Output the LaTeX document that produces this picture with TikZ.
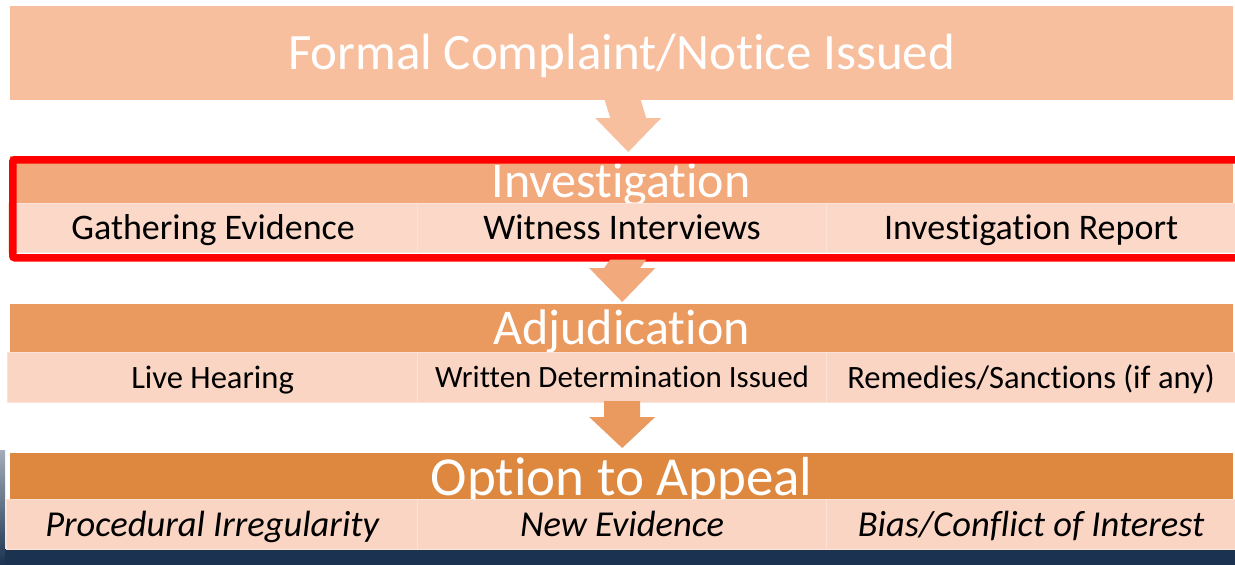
\documentclass[tikz,border=0pt]{standalone}
\usepackage{fontspec}
\setmainfont{Carlito}[Ligatures={NoCommon}]
\usetikzlibrary{calc}
\definecolor{topc}{HTML}{F8BF9F}
\definecolor{invh}{HTML}{F2A97B}
\definecolor{invr}{HTML}{FBD8C8}
\definecolor{adjh}{HTML}{EB9A5F}
\definecolor{rowc}{HTML}{FAD5C3}
\definecolor{opth}{HTML}{DE873F}
\definecolor{darkb}{HTML}{1B3250}
\definecolor{cellb}{HTML}{FCE3D7}
\tikzset{
  hdr/.style={rectangle, inner sep=0pt, anchor=north west, text=white,
    font=\fontsize{50}{56}\selectfont, minimum width=1223pt,
    text height=40pt, text depth=8pt},
  cellbox/.style={rectangle, inner sep=0pt, anchor=north west, draw=cellb,
    line width=1.2pt, text=black, minimum width=409pt, minimum height=49pt},
  bigrow/.style={font=\fontsize{36}{42}\selectfont, text height=29pt, text depth=5.8pt},
  smallrow/.style={font=\fontsize{#1}{38}\selectfont, text height=0.8*#1pt, text depth=0.16*#1pt},
  itrow/.style={font=\fontsize{36.5}{42}\selectfont\itshape, text height=29.2pt, text depth=5.8pt},
}
\newcommand{\blkarrow}[4]{%
  % #1 start coordinate, #2 tip coordinate, #3 head length, #4 colour
  \fill[#4] ($(#1)+(-18,0)$) -- ($(#1)+(18,0)$) -- ($(#2)+(18,-#3)$) --
    ($(#2)+(33,-#3)$) -- (#2) -- ($(#2)+(-33,-#3)$) -- ($(#2)+(-18,-#3)$) -- cycle;}
\begin{document}
\begin{tikzpicture}[x=1pt,y=-1pt]
\useasboundingbox (0,0) rectangle (1235,565);
\fill[white] (0,0) rectangle (1235,565);
% dark background pieces
\fill[darkb] (0,549) rectangle (1235,565);
\shade[top color=darkb!40!white, bottom color=darkb] (0,450) rectangle (5,565);

% top box
\node[hdr, fill=topc, minimum height=94pt, font=\fontsize{51}{57}\selectfont,
  text height=41pt, text depth=8pt] (top) at (10,6) {Formal Complaint/Notice Issued};

% Investigation
\node[hdr, fill=invh, minimum height=47pt] (invh) at (10,156) {};
\node[text=white, font=\fontsize{50}{56}\selectfont, text height=40pt, text depth=8pt,
  inner sep=0pt] (invt) at (621,181) {Investigation};
\node[cellbox, fill=invr, bigrow] (i1) at (8,203) {Gathering Evidence};
\node[cellbox, fill=invr, bigrow] (i2) at (417,203) {Witness Interviews};
\node[cellbox, fill=invr, bigrow] (i3) at (826,203) {Investigation Report};
\node[rectangle, draw=red, line width=7.5pt, inner sep=0pt, anchor=north west,
  minimum width=1230pt, minimum height=98pt, rounded corners=2pt] (redbox) at (9,156) {};

% Adjudication
\node[hdr, fill=adjh, minimum height=49pt] (adjh) at (10,304) {Adjudication};
\node[cellbox, fill=rowc, smallrow=32.6, minimum height=50pt, minimum width=410pt] (a1) at (7,352) {Live Hearing};
\node[cellbox, fill=rowc, smallrow=31, minimum height=50pt] (a2) at (417,352) {Written Determination Issued};
\node[cellbox, fill=rowc, smallrow=32.6, minimum height=50pt] (a3) at (826,352) {Remedies/Sanctions (if any)};

% Option to Appeal
\node[hdr, fill=opth, minimum height=46pt, font=\fontsize{55}{61}\selectfont,
  text height=42pt, text depth=10.8pt] (opth) at (10,453) {Option to Appeal};
\node[cellbox, fill=rowc, itrow, minimum height=50pt, minimum width=411pt] (o1) at (6,499) {Procedural Irregularity};
\node[cellbox, fill=rowc, itrow, minimum height=50pt] (o2) at (417,499) {New Evidence};
\node[cellbox, fill=rowc, itrow, minimum height=50pt] (o3) at (826,499) {Bias/Conflict of Interest};

% block arrows
\coordinate (s1) at ($(top.south)+(0.5,-2)$);
\coordinate (t1) at ($(redbox.north)+(0.5,-4)$);
\coordinate (s2) at ($(redbox.south)+(0.5,-2)$);
\coordinate (t2) at ($(adjh.north)+(0.5,-2)$);
\coordinate (s3) at ($(a2.south)+(0,-2)$);
\coordinate (t3) at ($(opth.north)+(0.5,-5)$);
\blkarrow{s1}{t1}{34}{topc}
\blkarrow{s2}{t2}{34}{invh}
\blkarrow{s3}{t3}{31}{adjh}
\end{tikzpicture}
\end{document}
